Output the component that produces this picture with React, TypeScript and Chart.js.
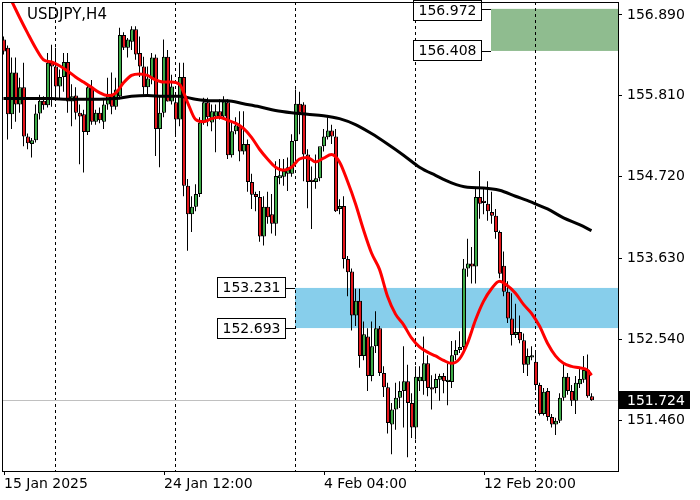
import React, { useEffect, useRef } from 'react';
import { Chart, registerables } from 'chart.js';

Chart.register(...registerables);

const FONT = 'DejaVu Sans';

const symbolTitle = 'USDJPY,H4';

const opens = [
  156.56, 156.45, 155.56, 156.12, 155.69, 155.92, 155.26, 155.16, 155.21, 155.57,
  155.74, 155.68, 156.25, 156.20, 155.93, 156.06, 156.26, 155.73, 155.81, 155.58,
  155.56, 155.32, 155.92, 155.46, 155.58, 155.46, 155.69, 155.82, 155.66, 155.80,
  156.62, 156.45, 156.53, 156.70, 156.38, 156.20, 155.92, 156.04, 156.32, 155.36,
  155.58, 156.33, 155.73, 155.72, 155.49, 156.06, 154.60, 154.22, 154.32, 154.49,
  155.45, 155.72, 155.45, 155.53, 155.60, 155.53, 155.72, 155.01, 155.33, 155.40,
  155.06, 155.16, 154.65, 154.49, 154.45, 153.92, 154.32, 154.22, 154.09, 154.70,
  154.72, 154.76, 154.76, 155.20, 155.70, 155.69, 155.02, 154.68, 154.65, 154.70,
  155.13, 155.25, 155.34, 155.26, 154.29, 154.33, 153.62, 153.45, 152.86, 153.06,
  152.32, 152.58, 152.05, 152.45, 152.69, 152.09, 151.90, 151.40, 151.60, 151.76,
  151.85, 151.98, 151.69, 151.36, 151.98, 151.98, 152.22, 151.90, 151.89, 152.00,
  152.05, 151.97, 151.97, 152.33, 152.40, 152.44, 153.49, 153.56, 153.52, 154.45,
  154.40, 154.36, 154.25, 154.20, 153.98, 153.53, 153.18, 152.82, 152.60, 152.64,
  152.53, 152.20, 152.30, 152.24, 151.93, 151.54, 151.85, 151.50, 151.40, 151.45,
  151.76, 152.04, 151.85, 151.72, 151.94, 152.00, 152.13, 151.78,
];

const highs = [
  156.60, 156.48, 156.32, 156.32, 156.05, 156.25, 155.30, 155.24, 155.69, 155.82,
  155.80, 156.38, 156.49, 156.45, 156.16, 156.38, 156.38, 155.96, 155.92, 155.69,
  155.62, 155.96, 156.02, 155.62, 155.65, 155.76, 156.05, 156.12, 156.05, 156.72,
  156.66, 156.58, 156.74, 156.74, 156.60, 156.33, 156.20, 156.38, 156.36, 155.80,
  156.56, 156.42, 156.09, 155.78, 156.25, 156.25, 154.69, 154.46, 154.62, 155.52,
  155.78, 155.78, 155.69, 155.69, 155.76, 155.80, 155.76, 155.46, 155.52, 155.60,
  155.60, 155.22, 154.76, 154.52, 154.53, 154.46, 154.52, 154.49, 154.93, 154.96,
  154.96, 154.98, 155.29, 155.89, 155.86, 155.72, 155.09, 154.86, 155.02, 155.09,
  155.36, 155.52, 155.42, 155.36, 154.42, 154.46, 153.66, 153.49, 153.22, 153.22,
  152.78, 152.69, 152.78, 152.92, 152.72, 152.18, 151.96, 151.69, 151.96, 151.98,
  152.45, 152.20, 151.82, 152.18, 152.18, 152.58, 152.33, 152.06, 152.08, 152.08,
  152.09, 152.22, 152.52, 152.53, 152.65, 153.62, 153.89, 153.78, 154.56, 154.80,
  154.56, 154.66, 154.52, 154.29, 154.00, 153.72, 153.32, 153.16, 153.02, 152.86,
  152.62, 152.42, 152.45, 152.40, 151.96, 151.89, 151.89, 151.54, 151.49, 151.82,
  152.22, 152.09, 151.93, 152.05, 152.16, 152.32, 152.34, 151.82,
];

const lows = [
  156.36, 155.22, 155.36, 155.46, 155.58, 155.13, 155.09, 154.98, 155.18, 155.49,
  155.62, 155.65, 155.66, 155.76, 155.76, 155.86, 155.58, 155.40, 155.49, 154.89,
  154.78, 155.28, 155.42, 155.42, 155.44, 155.36, 155.62, 155.56, 155.62, 155.76,
  156.42, 156.32, 156.42, 156.29, 156.06, 155.82, 155.82, 155.96, 155.00, 154.85,
  155.52, 155.73, 155.69, 155.29, 155.40, 154.46, 153.73, 153.98, 154.26, 154.45,
  155.42, 155.40, 155.33, 155.05, 155.49, 155.49, 154.96, 154.98, 155.29, 154.93,
  155.02, 154.52, 154.29, 154.26, 153.85, 153.80, 154.09, 153.96, 153.93, 154.62,
  154.60, 154.53, 154.72, 154.96, 155.29, 154.66, 154.30, 154.02, 154.56, 154.66,
  155.06, 155.22, 155.16, 154.25, 154.22, 153.49, 153.12, 152.66, 152.72, 152.16,
  152.26, 151.85, 151.98, 152.36, 152.05, 151.77, 151.28, 151.00, 151.33, 151.62,
  151.36, 150.96, 151.22, 151.20, 151.85, 151.80, 151.78, 151.60, 151.82, 151.72,
  151.82, 151.66, 151.89, 152.26, 152.36, 152.40, 153.38, 153.29, 153.29, 154.16,
  154.22, 154.13, 154.09, 153.89, 153.36, 153.12, 152.76, 152.46, 152.56, 152.49,
  152.09, 152.05, 152.26, 151.86, 151.52, 151.52, 151.45, 151.36, 151.26, 151.42,
  151.72, 151.80, 151.65, 151.54, 151.89, 151.96, 151.76, 151.72,
];

const closes = [
  156.40, 155.56, 156.12, 155.69, 155.92, 155.26, 155.17, 155.21, 155.57, 155.74,
  155.68, 156.25, 156.20, 155.93, 156.06, 156.26, 155.73, 155.80, 155.58, 155.53,
  155.32, 155.92, 155.46, 155.58, 155.48, 155.69, 155.82, 155.66, 155.89, 156.62,
  156.45, 156.56, 156.70, 156.36, 156.20, 155.92, 156.04, 156.32, 155.36, 155.58,
  156.33, 155.73, 155.93, 155.49, 156.06, 154.60, 154.22, 154.32, 154.49, 155.45,
  155.72, 155.52, 155.60, 155.60, 155.53, 155.73, 155.01, 155.33, 155.41, 155.06,
  155.16, 154.65, 154.48, 154.45, 153.92, 154.32, 154.18, 154.09, 154.73, 154.74,
  154.80, 154.85, 155.20, 155.70, 155.58, 155.02, 154.65, 154.65, 154.70, 155.13,
  155.26, 155.34, 155.26, 154.26, 154.33, 153.62, 153.44, 152.86, 153.06, 152.32,
  152.61, 152.05, 152.45, 152.69, 152.09, 151.90, 151.42, 151.60, 151.76, 151.85,
  151.98, 151.69, 151.36, 152.04, 152.04, 152.22, 151.89, 151.87, 152.01, 152.05,
  151.98, 152.00, 152.33, 152.40, 152.44, 153.49, 153.56, 153.52, 154.45, 154.36,
  154.37, 154.26, 154.20, 153.98, 153.42, 153.18, 152.82, 152.60, 152.64, 152.53,
  152.20, 152.32, 152.33, 151.93, 151.54, 151.84, 151.50, 151.40, 151.45, 151.76,
  152.04, 151.85, 151.72, 151.96, 152.01, 152.13, 151.78, 151.724,
];

const maFast: [number, number][] = [
  [0, 157.29], [2, 157.08], [4, 156.86], [6, 156.65], [8, 156.45], [10, 156.29], [12, 156.26],
  [14, 156.21], [16, 156.14], [18, 156.06], [20, 155.99], [22, 155.92], [24, 155.85], [26, 155.81],
  [28, 155.84], [30, 155.98], [32, 156.08], [34, 156.10], [36, 156.08], [38, 156.02], [40, 155.99],
  [42, 155.99], [44, 155.96], [46, 155.72], [48, 155.49], [50, 155.46], [52, 155.50], [54, 155.52],
  [56, 155.48], [58, 155.44], [60, 155.37], [62, 155.25], [64, 155.09], [66, 154.96], [68, 154.85],
  [70, 154.81], [72, 154.85], [74, 154.96], [76, 154.98], [78, 154.92], [80, 154.97], [82, 155.02],
  [84, 154.92], [86, 154.66], [88, 154.36], [90, 154.01], [92, 153.70], [94, 153.48], [96, 153.12],
  [98, 152.88], [100, 152.74], [102, 152.56], [104, 152.44], [106, 152.37], [108, 152.32],
  [110, 152.26], [112, 152.22], [114, 152.28], [116, 152.49], [118, 152.80], [120, 153.05],
  [122, 153.22], [124, 153.32], [126, 153.26], [128, 153.16], [130, 153.01], [132, 152.89],
  [134, 152.72], [136, 152.49], [138, 152.32], [140, 152.22], [142, 152.18], [144, 152.16],
  [146, 152.13], [147, 152.06],
];

const maSlow: [number, number][] = [
  [0, 155.77], [4, 155.77], [8, 155.77], [12, 155.77], [16, 155.76], [20, 155.76], [24, 155.76],
  [28, 155.77], [32, 155.80], [36, 155.81], [40, 155.80], [44, 155.80], [48, 155.76], [52, 155.74],
  [56, 155.74], [60, 155.70], [64, 155.66], [68, 155.61], [72, 155.58], [76, 155.56], [80, 155.54],
  [84, 155.50], [88, 155.42], [92, 155.30], [96, 155.16], [100, 155.01], [104, 154.85],
  [108, 154.74], [112, 154.64], [116, 154.58], [120, 154.57], [124, 154.54], [128, 154.46],
  [132, 154.38], [136, 154.29], [140, 154.17], [144, 154.08], [147, 154.00],
];

const xTickBars = [0, 40, 80, 120];
const xTickLabels = ['15 Jan 2025', '24 Jan 12:00', '4 Feb 04:00', '12 Feb 20:00'];
const yTickValues = [151.46, 152.54, 153.63, 154.72, 155.81, 156.89];
const weekStartBars = [13, 43, 73, 103, 133];

const zoneLow = [152.693, 156.408];
const zoneHigh = [153.231, 156.972];
const zoneStartBar = [73, 122];
const zoneColors = ['#87ceeb', '#8fbc8f'];

const currentPrice = 151.724;

const overlayPlugin = {
  id: 'mtOverlay',
  beforeDatasetsDraw(chart: any) {
    const { ctx, chartArea: a } = chart;
    const xs = chart.scales.xw;
    const ys = chart.scales.y;
    ctx.save();
    zoneLow.forEach((lo, k) => {
      const x0 = Math.floor(xs.getPixelForValue(zoneStartBar[k]));
      const yt = ys.getPixelForValue(zoneHigh[k]);
      const yb = ys.getPixelForValue(lo);
      ctx.fillStyle = zoneColors[k];
      ctx.fillRect(x0, yt, a.right - x0, yb - yt);
    });
    ctx.strokeStyle = '#000';
    ctx.lineWidth = 1;
    ctx.setLineDash([3, 3]);
    weekStartBars.forEach((b) => {
      const px = Math.floor(xs.getPixelForValue(b)) + 0.5;
      ctx.beginPath();
      ctx.moveTo(px, a.top);
      ctx.lineTo(px, a.bottom);
      ctx.stroke();
    });
    ctx.setLineDash([]);
    ctx.strokeStyle = '#c0c0c0';
    const py = Math.round(ys.getPixelForValue(currentPrice)) + 0.5;
    ctx.beginPath();
    ctx.moveTo(a.left, py);
    ctx.lineTo(a.right, py);
    ctx.stroke();
    ctx.restore();
  },
  afterDatasetsDraw(chart: any) {
    const { ctx } = chart;
    const xs = chart.scales.xw;
    const ys = chart.scales.y;
    ctx.save();
    ctx.font = `14px "${FONT}"`;
    ctx.lineWidth = 1;
    zoneLow.forEach((lo, k) => {
      const x0 = Math.floor(xs.getPixelForValue(zoneStartBar[k]));
      [zoneHigh[k], lo].forEach((p) => {
        const w = 69;
        const h = 21;
        const xr = x0 - 9;
        const xl = xr - w;
        const yc = ys.getPixelForValue(p);
        let top = Math.round(yc - h / 2);
        if (top < 0) top = 0;
        ctx.strokeStyle = '#000';
        ctx.beginPath();
        ctx.moveTo(xr, Math.round(yc) + 0.5);
        ctx.lineTo(x0, Math.round(yc) + 0.5);
        ctx.stroke();
        ctx.fillStyle = '#fff';
        ctx.fillRect(xl, top, w, h);
        ctx.strokeRect(xl + 0.5, top + 0.5, w - 1, h - 1);
        ctx.fillStyle = '#000';
        ctx.textAlign = 'center';
        ctx.textBaseline = 'middle';
        ctx.fillText(p.toFixed(3), xl + w / 2, top + h / 2 + 1);
      });
    });
    ctx.restore();
  },
  afterDraw(chart: any) {
    const { ctx, chartArea: a } = chart;
    const ys = chart.scales.y;
    ctx.save();
    ctx.strokeStyle = '#000';
    ctx.lineWidth = 1;
    ctx.strokeRect(a.left + 0.5, a.top + 0.5, a.right - a.left, a.bottom - a.top);
    const yc = Math.round(ys.getPixelForValue(currentPrice));
    ctx.fillStyle = '#000';
    ctx.fillRect(a.right + 1, yc - 9, 71, 18);
    ctx.fillStyle = '#fff';
    ctx.font = `14px "${FONT}"`;
    ctx.textAlign = 'left';
    ctx.textBaseline = 'middle';
    ctx.fillText(currentPrice.toFixed(3), a.right + 9, yc + 1);
    ctx.fillStyle = '#000';
    ctx.font = `15px "${FONT}"`;
    ctx.textBaseline = 'alphabetic';
    ctx.fillText(symbolTitle, 27, 19);
    ctx.restore();
  },
};

export default function App() {
  const ref = useRef<HTMLCanvasElement>(null);
  useEffect(() => {
    const canvas = ref.current;
    if (!canvas) return;
    const bull = '#3daa47';
    const bear = '#e3161c';
    const bodyData = opens.map((o, i) => ({ x: i, y: [o, closes[i]] }));
    const wickData = opens.map((_, i) => ({ x: i, y: [lows[i], highs[i]] }));
    const bodyColors = opens.map((o, i) => (closes[i] >= o ? bull : bear));
    const chart = new Chart(canvas, {
      type: 'bar',
      data: {
        datasets: [
          {
            type: 'line',
            label: 'MA fast',
            data: maFast.map(([x, y]) => ({ x, y })),
            xAxisID: 'xw',
            borderColor: '#ff0000',
            borderWidth: 3,
            pointRadius: 0,
            cubicInterpolationMode: 'monotone',
            order: 0,
          } as any,
          {
            type: 'line',
            label: 'MA slow',
            data: maSlow.map(([x, y]) => ({ x, y })),
            xAxisID: 'xw',
            borderColor: '#000000',
            borderWidth: 3,
            pointRadius: 0,
            cubicInterpolationMode: 'monotone',
            order: 1,
          } as any,
          {
            type: 'bar',
            label: 'body',
            data: bodyData,
            xAxisID: 'x',
            backgroundColor: bodyColors,
            borderColor: '#000',
            borderWidth: 1,
            borderSkipped: false,
            barThickness: 4,
            grouped: false,
            inflateAmount: 0,
            order: 2,
          } as any,
          {
            type: 'bar',
            label: 'wick',
            data: wickData,
            xAxisID: 'xw',
            backgroundColor: '#000',
            borderWidth: 0,
            barThickness: 1,
            grouped: false,
            inflateAmount: 0,
            order: 3,
          } as any,
        ],
      },
      options: {
        animation: false,
        responsive: false,
        devicePixelRatio: 1,
        events: [],
        layout: { padding: { left: 2, top: 2, right: 0, bottom: 0 } },
        plugins: {
          legend: { display: false },
          tooltip: { enabled: false },
        },
        scales: {
          x: {
            type: 'linear',
            position: 'bottom',
            min: -0.5,
            max: 153.5,
            offset: false,
            afterBuildTicks: (s: any) => {
              s.ticks = xTickBars.map((v) => ({ value: v }));
            },
            afterFit: (s: any) => {
              s.height = 29;
              s.paddingLeft = 0;
              s.paddingRight = 0;
            },
            ticks: {
              autoSkip: false,
              maxRotation: 0,
              minRotation: 0,
              align: 'start',
              padding: 1,
              color: '#000',
              font: { family: FONT, size: 14 },
              callback: (v: any) => {
                const k = xTickBars.indexOf(Number(v));
                return k >= 0 ? xTickLabels[k] : '';
              },
            },
            grid: { drawOnChartArea: false, drawTicks: true, tickLength: 4, color: '#000', offset: false },
            border: { display: false },
          },
          xw: {
            type: 'linear',
            position: 'bottom',
            display: false,
            min: -0.375,
            max: 153.625,
            offset: false,
            grid: { offset: false },
          },
          y: {
            type: 'linear',
            position: 'right',
            min: 150.777,
            max: 157.064,
            beginAtZero: false,
            afterBuildTicks: (s: any) => {
              s.ticks = yTickValues.map((v) => ({ value: v }));
            },
            afterFit: (s: any) => {
              s.width = 82;
              s.paddingTop = 0;
              s.paddingBottom = 0;
            },
            ticks: {
              padding: 5,
              color: '#000',
              font: { family: FONT, size: 14 },
              callback: (v: any) => Number(v).toFixed(3),
            },
            grid: { drawOnChartArea: false, drawTicks: true, tickLength: 4, color: '#000' },
            border: { display: false },
          },
        },
      } as any,
      plugins: [overlayPlugin],
    });
    return () => chart.destroy();
  }, []);

  return (
    <div style={{ position: 'fixed', left: 0, top: 0, width: 700, height: 500, background: '#fff' }}>
      <canvas ref={ref} width={700} height={500} style={{ width: 700, height: 500, display: 'block' }} />
    </div>
  );
}
